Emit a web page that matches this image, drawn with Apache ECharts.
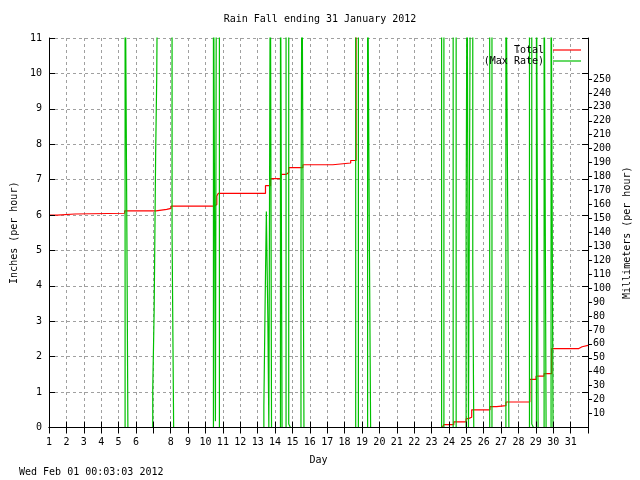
<!DOCTYPE html>
<html><head><meta charset="utf-8">
<script src="https://cdn.jsdelivr.net/npm/echarts@6/dist/echarts.min.js"></script>
<style>html,body{margin:0;padding:0;background:#fff}#c{width:640px;height:480px}</style>
</head><body><div id="c"></div>
<script>
const titleText = 'Rain Fall ending 31 January 2012';
const stampText = 'Wed Feb 01 00:03:03 2012';
const xTickLabels = ['1','2','3','4','5','6','','8','9','10','11','12','13','14','15','16','17','18','19','20','21','22','23','24','25','26','27','28','29','30','31',''];
const mmTicks = [10,20,30,40,50,60,70,80,90,100,110,120,130,140,150,160,170,180,190,200,210,220,230,240,250];

// Total (inches), step changes: day, new value
const totalDays   = [1, 1.47, 2.49, 5.35, 7.16, 7.77, 8.02, 10.50, 10.65, 10.73, 13.45, 13.74, 14.35, 14.65, 14.79, 15.60, 17.32, 18.35, 18.66, 20,
                     23.62, 23.70, 24.28, 24.99, 25.12, 25.31, 26.36, 26.74, 27.28, 28.65, 29.01, 29.47, 29.91, 31.47, 31.66, 32];
const totalInches = [6.00, 6.03, 6.05, 6.12, 6.16, 6.19, 6.25, 6.30, 6.54, 6.61, 6.83, 7.03, 7.15, 7.20, 7.34, 7.42, 7.47, 7.54, 14, null,
                     0.00, 0.08, 0.16, 0.25, 0.29, 0.50, 0.59, 0.62, 0.72, 1.36, 1.45, 1.52, 2.23, 2.28, 2.32, 2.32];

// Max rate (inches per hour), step changes: day, new value
const rateDays = [1,
  5.376, 5.479, 5.537,
  6.967, 7.047, 7.133, 7.196, 7.253, 8.077, 8.168,
  10.457, 10.571, 10.628, 10.80,
  13.357, 13.431, 13.50, 13.586, 13.643, 13.729, 13.798,
  14.312, 14.404, 14.633, 14.787, 14.884,
  15.491, 15.548, 15.663,
  18.35, 18.40,
  18.638, 18.792,
  19.324, 19.421, 19.496,
  23.579, 23.711,
  24.243, 24.415,
  24.987, 25.044, 25.124,
  25.239, 25.371, 25.428,
  26.344, 26.475,
  27.276, 27.39, 27.447,
  28.632, 28.764, 28.86,
  29.032, 29.13,
  29.473, 29.588,
  29.873, 29.987,
  32];
const rateInches = [0,
  14, 5.5, 0,
  1.1, 3.3, 7.7, 9.9, 14, 5.5, 0,
  14, 0.18, 14, 0,
  0.6, 3.6, 6.1, 3.1, 0, 14, 0,
  14, 0, 14, 0.1, 0,
  5.5, 14, 0,
  0.05, 0,
  14, 0,
  14, 5.5, 0,
  14, 0,
  14, 0,
  5.5, 14, 0,
  14, 4.6, 0,
  14, 0,
  14, 5.5, 0,
  14, 0.1, 0,
  14, 0,
  14, 0,
  14, 0,
  0];

const FONT = 'DejaVu Sans Mono';
const FS = 10;
const totalData = totalDays.map((d, i) => [d, totalInches[i]]);
const rateData = rateDays.map((d, i) => [d, rateInches[i]]);
const MM_PER_IN = 25.4;
const YMAX = 11;

const chart = echarts.init(document.getElementById('c'), null, {renderer: 'canvas'});
const txt = {color: '#000', fontFamily: FONT, fontSize: FS};
const grid = {left: 49, right: 49, top: 38, bottom: 52.5};
chart.setOption({
  animation: false,
  backgroundColor: '#fff',
  title: {text: titleText, left: 'center', top: 9, textStyle: {color: '#000', fontFamily: FONT, fontSize: FS, fontWeight: 'normal'}},
  legend: {
    orient: 'vertical', align: 'right', right: 54, top: 40, itemWidth: 28, itemHeight: 1.2, itemGap: 1, icon: 'rect',
    textStyle: {color: '#000', fontFamily: FONT, fontSize: FS, padding: [0, 4, 0, 0]},
    data: ['Total', '(Max Rate)']
  },
  grid: grid,
  graphic: [{type: 'text', left: 19, top: 467, style: {text: stampText, fill: '#000', font: FS + 'px ' + FONT}}],
  xAxis: [
    {type: 'value', position: 'bottom', min: 1, max: 32, interval: 1, z: 5,
     axisLine: {lineStyle: {color: '#000', width: 1}}, axisTick: {inside: true, length: 6, lineStyle: {color: '#000'}},
     axisLabel: Object.assign({margin: 10, formatter: v => xTickLabels[Math.round(v) - 1] || ''}, txt),
     splitLine: {show: false},
     name: 'Day', nameLocation: 'middle', nameGap: 28, nameTextStyle: txt},
    {type: 'value', position: 'top', min: 1, max: 32, interval: 1, z: 5,
     axisLine: {lineStyle: {color: '#000', width: 1}}, axisTick: {inside: true, length: 6, lineStyle: {color: '#000'}},
     axisLabel: {show: false}, splitLine: {show: false}},
    {type: 'value', position: 'bottom', min: 1, max: 32, interval: 1, z: 0,
     axisLine: {show: false}, axisTick: {show: false}, axisLabel: {show: false},
     splitLine: {show: true, lineStyle: {color: '#a0a0a0', type: [3, 3], width: 1}}}
  ],
  yAxis: [
    {type: 'value', position: 'left', min: 0, max: YMAX, interval: 1, z: 5,
     axisLine: {show: true, lineStyle: {color: '#000', width: 1}}, axisTick: {show: true, inside: true, length: 6, lineStyle: {color: '#000'}},
     axisLabel: Object.assign({margin: 7}, txt), splitLine: {show: false},
     name: 'Inches (per hour)', nameLocation: 'middle', nameRotate: 90, nameGap: 30, nameTextStyle: txt},
    {type: 'value', position: 'right', min: 0, max: YMAX * MM_PER_IN, z: 5,
     axisLine: {show: true, lineStyle: {color: '#000', width: 1}},
     axisTick: {show: true, inside: false, length: 4, customValues: mmTicks, lineStyle: {color: '#000'}},
     axisLabel: Object.assign({margin: 5, customValues: mmTicks}, txt), splitLine: {show: false},
     name: 'Millimeters (per hour)', nameLocation: 'middle', nameRotate: 90, nameGap: 30, nameTextStyle: txt},
    {type: 'value', position: 'right', min: 0, max: YMAX, interval: 1, z: 5,
     axisLine: {show: false}, axisTick: {show: true, inside: true, length: 6, lineStyle: {color: '#000'}},
     axisLabel: {show: false}, splitLine: {show: false}},
    {type: 'value', position: 'left', min: 0, max: YMAX, interval: 1, z: 0,
     axisLine: {show: false}, axisTick: {show: false}, axisLabel: {show: false},
     splitLine: {show: true, lineStyle: {color: '#a0a0a0', type: [3, 3], width: 1}}}
  ],
  series: [
    {name: 'Total', type: 'line', step: 'end', xAxisIndex: 0, yAxisIndex: 0, symbol: 'none', clip: true, connectNulls: false,
     color: '#ff0000', lineStyle: {color: '#ff0000', width: 1.2}, data: totalData},
    {name: '(Max Rate)', type: 'line', step: 'end', xAxisIndex: 0, yAxisIndex: 0, symbol: 'none', clip: true,
     color: '#00c000', lineStyle: {color: '#00c000', width: 1.2}, data: rateData}
  ]
});
</script></body></html>
